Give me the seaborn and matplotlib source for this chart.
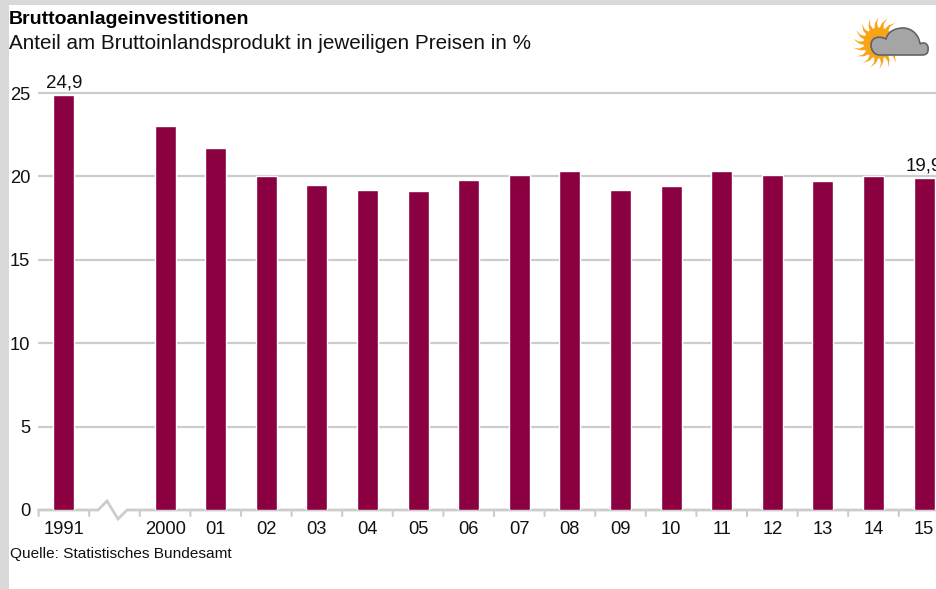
import numpy as np
import matplotlib
matplotlib.use("Agg")
import matplotlib.pyplot as plt
from matplotlib.patches import Rectangle, Polygon, Circle, PathPatch
from matplotlib.path import Path
import seaborn as sns

categories = ["1991", "", "2000", "01", "02", "03", "04", "05", "06", "07",
              "08", "09", "10", "11", "12", "13", "14", "15"]
values = [24.9, np.nan, 23.0, 21.7, 20.0, 19.5, 19.2, 19.1, 19.8, 20.1,
          20.3, 19.2, 19.4, 20.3, 20.1, 19.7, 20.0, 19.9]
annotated = {"1991": "24,9", "15": "19,9"}
yticks = [0, 5, 10, 15, 20, 25]
title = "Bruttoanlageinvestitionen"
subtitle = "Anteil am Bruttoinlandsprodukt in jeweiligen Preisen in %"
source = "Quelle: Statistisches Bundesamt"

BAR = "#8a0040"
GRID = "#cccccc"
EDGE = "#d9d9d9"
TXT = "#111111"
W, H = 936, 589
LEFT, STEP = 38.6, 50.6

sns.set_theme(style="white")
plt.rcParams["font.family"] = ["Liberation Sans", "DejaVu Sans"]
fig = plt.figure(figsize=(W / 100, H / 100), dpi=100, facecolor="white")

ax = fig.add_axes([LEFT / W, 1 - 510 / H, (W - LEFT) / W, (510 - 93) / H])
ax.set_axisbelow(True)
sns.barplot(x=categories, y=values, order=categories, color=BAR, saturation=1,
            width=0.415, ax=ax, zorder=3)
ax.set_xlim(-0.5, -0.5 + (W - LEFT) / STEP)
ax.set_ylim(0, 25)
ax.set_xlabel("")
ax.set_ylabel("")
for s in ax.spines.values():
    s.set_visible(False)
ax.patch.set_alpha(0)

ax.set_yticks(yticks)
ax.set_yticklabels([str(t) for t in yticks], fontsize=13.2, color=TXT)
ax.tick_params(axis="y", length=0, pad=6)
for t in yticks[1:]:
    ax.axhline(t, color=GRID, lw=1.6, zorder=1, clip_on=False)

n = len(categories)
ax.set_xticks(np.arange(n))
ax.set_xticklabels(categories, fontsize=13.2, color=TXT)
ax.tick_params(axis="x", length=0, pad=8)

# category-boundary tick marks and the broken base line
trans = ax.get_xaxis_transform()
for b in np.arange(-0.5, n - 0.4):
    ax.annotate("", xy=(b, 0), xycoords=trans, xytext=(0, -6), textcoords="offset pixels",
                arrowprops=dict(arrowstyle="-", color=GRID, lw=1.5, shrinkA=0, shrinkB=0))
center0 = LEFT + STEP / 2
brk_px = [LEFT, 98, 107, 118, 127, W]
xs = [(v - center0) / STEP for v in brk_px]
ys_off = [0, 0, 9, -9, 0, 0]
yscale = 25 / (510 - 93)
ax.plot(xs, [o * yscale for o in ys_off], color=GRID, lw=2, clip_on=False, zorder=2,
        solid_joinstyle="miter")

# value labels
for i, (c, v) in enumerate(zip(categories, values)):
    if c in annotated:
        ax.annotate(annotated[c], xy=(i, v), xytext=(0, 2.4), textcoords="offset points",
                    ha="center", va="bottom", fontsize=13.5, color=TXT, annotation_clip=False)

# texts
fig.text(9 / W, 1 - 24 / H, title, fontsize=14, fontweight="bold", color="black", va="baseline", ha="left")
fig.text(9 / W, 1 - 49 / H, subtitle, fontsize=14.9, color=TXT, va="baseline", ha="left")
fig.text(10 / W, 1 - 558 / H, source, fontsize=11.1, color=TXT, va="baseline", ha="left")

# overlay in pixel coordinates: page border and icon
ov = fig.add_axes([0, 0, 1, 1], zorder=5)
ov.set_xlim(0, W)
ov.set_ylim(H, 0)
ov.axis("off")
ov.add_patch(Rectangle((0, 0), 9, H, color=EDGE, lw=0))
ov.add_patch(Rectangle((0, 0), W, 5, color=EDGE, lw=0))

cx, cy, r0, r1 = 879, 43, 15, 26
for a in np.linspace(0, 2 * np.pi, 18, endpoint=False):
    verts = []
    for da, r in [(-0.13, r0), (-0.03, r0 + 5), (0.16, r1), (0.07, r0 + 5), (0.13, r0)]:
        verts.append((cx + r * np.cos(a + da), cy + r * np.sin(a + da)))
    ov.add_patch(Polygon(verts, closed=True, color="#f7a416", lw=0))
ov.add_patch(Circle((cx, cy), r0 + 0.5, color="#f7a416", lw=0))

cloud = [
    (Path.MOVETO, (880, 55)),
    (Path.CURVE4, (874, 55)), (Path.CURVE4, (871, 50)), (Path.CURVE4, (871, 45)),
    (Path.CURVE4, (871, 38)), (Path.CURVE4, (878, 35)), (Path.CURVE4, (886, 39)),
    (Path.CURVE4, (888, 31)), (Path.CURVE4, (896, 28)), (Path.CURVE4, (903, 28)),
    (Path.CURVE4, (912, 28)), (Path.CURVE4, (919, 35)), (Path.CURVE4, (920, 44)),
    (Path.CURVE4, (925, 41)), (Path.CURVE4, (929, 45)), (Path.CURVE4, (928, 50)),
    (Path.CURVE4, (928, 54)), (Path.CURVE4, (925, 55)), (Path.CURVE4, (922, 55)),
    (Path.CLOSEPOLY, (880, 55)),
]
codes, verts = zip(*cloud)
ov.add_patch(PathPatch(Path(verts, codes), facecolor="#a5a5a5", edgecolor="#5f6468", lw=1.2))

fig.savefig("out.png", dpi=100, facecolor="white")
